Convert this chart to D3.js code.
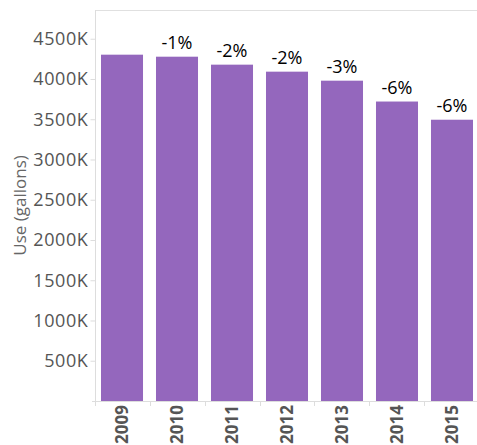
<!DOCTYPE html>
<html><head><meta charset="utf-8">
<script src="https://cdn.jsdelivr.net/npm/d3@7"></script>
<style>body{margin:0;background:#fff}svg{display:block}</style>
</head><body>
<svg id="c" width="477" height="445"></svg>
<script>
const years = ["2009","2010","2011","2012","2013","2014","2015"];
const usage = [4302, 4277, 4178, 4091, 3979, 3720, 3494]; // thousands of gallons
const changeLabels = ["", "-1%", "-2%", "-2%", "-3%", "-6%", "-6%"];
const yTicks = [500, 1000, 1500, 2000, 2500, 3000, 3500, 4000, 4500];

(function () {
const svg = d3.select("#c");
const mL = 95, mT = 10, mB = 401, mR = 479;
const x = d3.scaleBand().domain(years).range([mL, mR]).paddingInner(0.236).paddingOuter(0.109);
const y = d3.scaleLinear().domain([0, 4857]).range([mB, mT]);
const font = "'Open Sans', sans-serif";

// frame top line
svg.append("line").attr("x1", mL).attr("x2", 477).attr("y1", mT + 0.5).attr("y2", mT + 0.5)
  .attr("stroke", "#e0e0e0").attr("stroke-width", 1);

// bars
svg.selectAll("rect.bar").data(years).enter().append("rect")
  .attr("x", d => x(d)).attr("width", x.bandwidth())
  .attr("y", (d, i) => y(usage[i])).attr("height", (d, i) => y(0) - y(usage[i]))
  .attr("fill", "#9467bd");

// y axis
const yAxis = d3.axisLeft(y).tickValues(yTicks).tickSize(5).tickPadding(2).tickFormat(d => d + "K");
const gy = svg.append("g").attr("transform", `translate(${mL + 0.5},0)`).call(yAxis);
gy.select(".domain").attr("stroke", "#ddd").attr("d", `M0,${mT}V${mB + 3}`);
gy.selectAll(".tick line").attr("stroke", "#ddd");
gy.selectAll(".tick text").attr("fill", "#555").style("font-family", font).style("font-size", "18px")
  .style("letter-spacing", "0.6px");

// x axis
svg.append("line").attr("x1", mL - 3).attr("x2", 477).attr("y1", mB + 0.5).attr("y2", mB + 0.5)
  .attr("stroke", "#ddd");
const half = x.step() * x.paddingInner() / 2;
const bounds = years.map(d => x(d) - half);
bounds[0] = mL;
svg.selectAll("line.xt").data(bounds).enter().append("line")
  .attr("x1", d => Math.round(d) + 0.5).attr("x2", d => Math.round(d) + 0.5)
  .attr("y1", mB).attr("y2", mB + 5).attr("stroke", "#ddd");
svg.selectAll("text.xl").data(years).enter().append("text")
  .attr("transform", d => `translate(${x(d) + x.bandwidth() / 2},${mB + 4}) rotate(-90)`)
  .attr("text-anchor", "end").attr("dy", "0.36em")
  .attr("fill", "#555").style("font-family", font).style("font-size", "17px").style("font-weight", "bold")
  .text(d => d);

// percent labels
svg.selectAll("text.pl").data(years).enter().append("text")
  .attr("x", d => x(d) + x.bandwidth() / 2)
  .attr("y", (d, i) => y(usage[i]) - 8)
  .attr("text-anchor", "middle").attr("fill", "#000")
  .style("font-family", font).style("font-size", "18px")
  .text((d, i) => changeLabels[i]);

// y title
svg.append("text").attr("transform", `translate(26,${(mT + mB) / 2}) rotate(-90)`)
  .attr("text-anchor", "middle").attr("fill", "#666")
  .style("font-family", font).style("font-size", "17px").text("Use (gallons)");
})();
</script>
</body></html>
